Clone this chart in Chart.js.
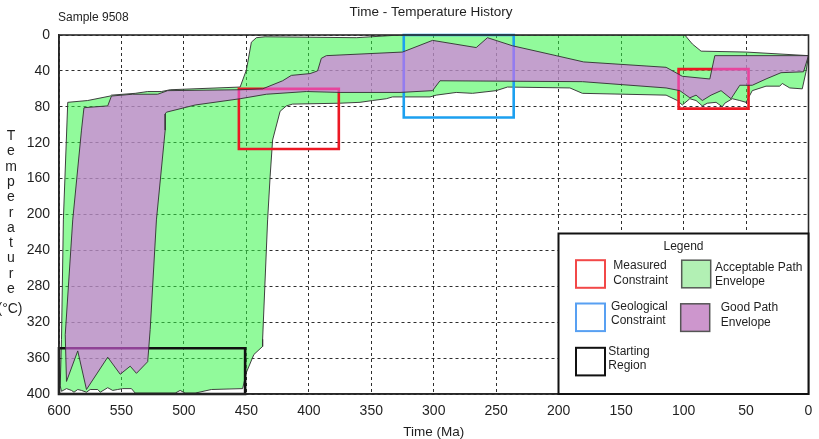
<!DOCTYPE html>
<html>
<head>
<meta charset="utf-8">
<title>Time - Temperature History</title>
<script src="https://cdn.jsdelivr.net/npm/chart.js@4/dist/chart.umd.min.js"></script>
<style>
  html, body { margin: 0; padding: 0; background: #ffffff; }
  #wrap { position: relative; width: 819px; height: 439px; }
</style>
</head>
<body>
<div id="wrap"><canvas id="chart" width="819" height="439"></canvas></div>
<script>
// ---- labels ----
const sampleName = 'Sample 9508';
const chartTitle = 'Time - Temperature History';
const xAxisTitle = 'Time (Ma)';
const yAxisLetters = ['T', 'e', 'm', 'p', 'e', 'r', 'a', 't', 'u', 'r', 'e', '(\u00B0C)'];

// ---- tick values ----
const timeTicks = [600, 550, 500, 450, 400, 350, 300, 250, 200, 150, 100, 50, 0];
const tempTicks = [0, 40, 80, 120, 160, 200, 240, 280, 320, 360, 400];

// ---- envelopes: [time (Ma), temperature (°C)] around the outline ----
const acceptableEnvelope = [
  [593, 75], [577, 73], [559, 68], [558, 67], [539, 65], [529, 63], [518, 63], [511, 61],
  [455, 58], [450, 39], [446, 8], [442, 3], [435, 2], [362, 3], [327, 0], [99, 0],
  [93, 10], [86, 18], [50, 19], [0, 23],
  [2, 41], [5, 60], [15, 59], [21, 54], [23, 57], [34, 57], [45, 62], [50, 75], [55, 73],
  [61, 71], [67, 76], [69, 80], [74, 75], [81, 76], [85, 79], [90, 73], [95, 71], [101, 78],
  [105, 73], [114, 67], [181, 65], [191, 59], [241, 58], [250, 62], [269, 65], [282, 64],
  [298, 67], [303, 69], [333, 69], [338, 71], [349, 73], [359, 75], [375, 76], [413, 77],
  [418, 79], [423, 85], [429, 117], [431, 158], [433, 206], [437, 339], [437, 347],
  [444, 356], [450, 376], [453, 394], [478, 395], [491, 399], [499, 399], [503, 396],
  [507, 399], [539, 399], [542, 394], [549, 394], [553, 395], [557, 396], [561, 393],
  [567, 398], [569, 395], [575, 395], [578, 398], [582, 396], [585, 395], [588, 398],
  [590, 396], [594, 394], [598, 397], [599, 391], [598, 339], [596.5, 206]
];

const goodEnvelope = [
  [580, 81], [561, 79], [558, 68], [541, 66], [521, 66], [513, 62], [455, 61], [437, 60],
  [421, 51], [414, 45], [399, 43], [393, 40], [390, 26], [386, 23], [325, 19], [301, 6],
  [266, 14], [257, 3], [237, 12], [202, 23], [180, 30], [114, 36], [101, 46], [79, 49],
  [75, 23], [0, 23],
  [4, 41], [22, 42], [34, 49], [45, 56], [55, 56], [62, 71], [70, 62], [78, 67], [85, 73],
  [90, 67], [95, 70], [103, 62], [114, 59], [181, 52], [295, 51], [301, 62], [327, 64],
  [375, 64], [402, 63], [434, 66], [455, 71], [491, 78], [514, 86], [515, 88],
  [515, 106], [522, 206], [527, 328], [529, 364],
  [538, 377], [543, 369], [551, 378], [561, 359], [578, 395], [585, 352], [594, 386],
  [595, 334], [589, 206], [582, 106]
];

// ---- constraint boxes: [older Ma, younger Ma, cooler °C, hotter °C] ----
const measuredConstraints = [
  [456, 376, 60, 127],
  [104, 48, 38, 82]
];
const geologicalConstraints = [
  [324, 236, 0, 92]
];
const startingRegion = [
  [600, 451, 349, 400]
];

// ---- legend text ----
const legendTitle = 'Legend';
const legendMeasured = ['Measured', 'Constraint'];
const legendAcceptable = ['Acceptable Path', 'Envelope'];
const legendGeological = ['Geological', 'Constraint'];
const legendGood = ['Good Path', 'Envelope'];
const legendStarting = ['Starting', 'Region'];

// ---- styling ----
const FONT = '"Liberation Sans", Arial, Helvetica, sans-serif';
const TEXT = '#1f1f1f';
const GREEN_FILL = 'rgba(49, 246, 68, 0.535)';
const PURPLE_FILL = 'rgba(228, 100, 238, 0.6)';
const OUTLINE = 'rgba(55, 55, 55, 0.95)';
const RED = 'rgb(236, 24, 36)';
const BLUE = 'rgb(28, 160, 240)';
const BLACK = '#111111';

function closedPath(pairs) {
  const pts = pairs.map(([x, y]) => ({ x, y }));
  pts.push({ x: pts[0].x, y: pts[0].y });
  return pts;
}
function boxPath([tOld, tYoung, tCool, tHot]) {
  return [
    { x: tOld, y: tCool }, { x: tYoung, y: tCool },
    { x: tYoung, y: tHot }, { x: tOld, y: tHot }, { x: tOld, y: tCool }
  ];
}
function boxDataset(label, box, color) {
  return {
    label, data: boxPath(box), order: 1,
    borderColor: color, borderWidth: 2.6, fill: false,
    pointRadius: 0, tension: 0, clip: false,
    borderJoinStyle: 'miter', borderCapStyle: 'square'
  };
}

const datasets = [
  {
    label: 'Good Path Envelope', data: closedPath(goodEnvelope), order: 0,
    fill: 'shape', backgroundColor: PURPLE_FILL, borderColor: OUTLINE,
    borderWidth: 1, pointRadius: 0, tension: 0
  },
  ...measuredConstraints.map(b => boxDataset('Measured Constraint', b, RED)),
  ...geologicalConstraints.map(b => boxDataset('Geological Constraint', b, BLUE)),
  ...startingRegion.map(b => boxDataset('Starting Region', b, BLACK)),
  {
    label: 'Acceptable Path Envelope', data: closedPath(acceptableEnvelope), order: 2,
    fill: 'shape', backgroundColor: GREEN_FILL, borderColor: OUTLINE,
    borderWidth: 1, pointRadius: 0, tension: 0
  }
];

// frame, titles, vertical axis label and the legend panel
const decorations = {
  id: 'decorations',
  afterDatasetsDraw(chart) {
    const { ctx, chartArea: a } = chart;
    ctx.save();
    ctx.strokeStyle = '#2a2a2a';
    ctx.lineWidth = 1.6;
    ctx.strokeRect(a.left, a.top, a.right - a.left, a.bottom - a.top);
    ctx.restore();
  },
  afterDraw(chart) {
    const { ctx, chartArea: a } = chart;
    ctx.save();
    ctx.fillStyle = TEXT;

    // headings
    ctx.font = `13.5px ${FONT}`;
    ctx.textAlign = 'center';
    ctx.textBaseline = 'middle';
    ctx.fillText(chartTitle, 431, 12);
    ctx.font = `12px ${FONT}`;
    ctx.textAlign = 'left';
    ctx.fillText(sampleName, 58, 17.5);

    // stacked axis label
    ctx.font = `14px ${FONT}`;
    ctx.textAlign = 'center';
    ctx.textBaseline = 'alphabetic';
    yAxisLetters.forEach((ch, i) => {
      const last = i === yAxisLetters.length - 1;
      ctx.fillText(ch, last ? 10 : 11, last ? 313 : 140 + i * 15.3);
    });

    // legend panel anchored to the lower right of the plot
    const L = a.right - 250, T = a.bottom - 160.5;
    ctx.fillStyle = '#ffffff';
    ctx.fillRect(L, T, 250, 160.5);
    ctx.strokeStyle = BLACK;
    ctx.lineWidth = 2;
    ctx.strokeRect(L, T, 250, 160.5);

    ctx.fillStyle = TEXT;
    ctx.font = `12px ${FONT}`;
    ctx.textAlign = 'center';
    ctx.textBaseline = 'middle';
    ctx.fillText(legendTitle, L + 125, T + 12.7);

    const swatch = (dx, dy, fill, stroke, lw) => {
      ctx.fillStyle = fill;
      ctx.fillRect(L + dx, T + dy, 29, 27.6);
      ctx.strokeStyle = stroke;
      ctx.lineWidth = lw;
      ctx.strokeRect(L + dx, T + dy, 29, 27.6);
    };
    const lines = (dx, dy1, dy2, text) => {
      ctx.fillStyle = TEXT;
      ctx.textAlign = 'left';
      ctx.textBaseline = 'middle';
      ctx.fillText(text[0], L + dx, T + dy1);
      ctx.fillText(text[1], L + dx, T + dy2);
    };
    swatch(17.5, 26.7, '#ffffff', 'rgb(242, 72, 72)', 2);
    lines(54.8, 31.7, 47, legendMeasured);
    swatch(123.2, 26.7, 'rgb(178, 240, 180)', 'rgb(85, 90, 85)', 1.5);
    lines(156.5, 33.7, 47.7, legendAcceptable);
    swatch(17.5, 70, '#ffffff', 'rgb(88, 160, 242)', 2);
    lines(52.5, 72.7, 86.7, legendGeological);
    swatch(122.2, 70.3, 'rgb(205, 150, 205)', 'rgb(85, 85, 85)', 1.5);
    lines(162.2, 74.3, 89.3, legendGood);
    swatch(17.5, 114.3, '#ffffff', BLACK, 2);
    lines(49.8, 117.7, 132, legendStarting);

    ctx.restore();
  }
};

const gridStyle = {
  color: 'rgba(0, 0, 0, 0.82)',
  lineWidth: 1,
  drawTicks: false,
  borderDash: [3, 3]
};
const borderStyle = { display: true, color: '#222222', width: 1.5, dash: [3, 3] };
const tickFont = { family: FONT, size: 14 };

new Chart(document.getElementById('chart'), {
  type: 'line',
  data: { datasets },
  plugins: [decorations],
  options: {
    responsive: false,
    animation: false,
    events: [],
    layout: { padding: { top: 35, right: 10.5, bottom: 0, left: 0 } },
    plugins: {
      legend: { display: false },
      tooltip: { enabled: false },
      title: { display: false }
    },
    scales: {
      x: {
        type: 'linear', min: 0, max: 600, reverse: true,
        afterBuildTicks: s => { s.ticks = timeTicks.map(v => ({ value: v })); },
        afterFit: s => { s.height = 45; s.paddingLeft = 0; s.paddingRight = 0; },
        grid: gridStyle,
        border: borderStyle,
        ticks: { padding: 9, color: TEXT, font: tickFont, maxRotation: 0, autoSkip: false },
        title: {
          display: true, text: xAxisTitle, color: TEXT,
          font: { family: FONT, size: 13.5, lineHeight: 1 }, padding: 0
        }
      },
      y: {
        type: 'linear', min: 0, max: 400, reverse: true,
        afterBuildTicks: s => { s.ticks = tempTicks.map(v => ({ value: v })); },
        afterFit: s => { s.width = 59; s.paddingTop = 0; s.paddingBottom = 0; },
        grid: gridStyle,
        border: borderStyle,
        ticks: { padding: 9, color: TEXT, font: tickFont, autoSkip: false }
      }
    }
  }
});
</script>
</body>
</html>
